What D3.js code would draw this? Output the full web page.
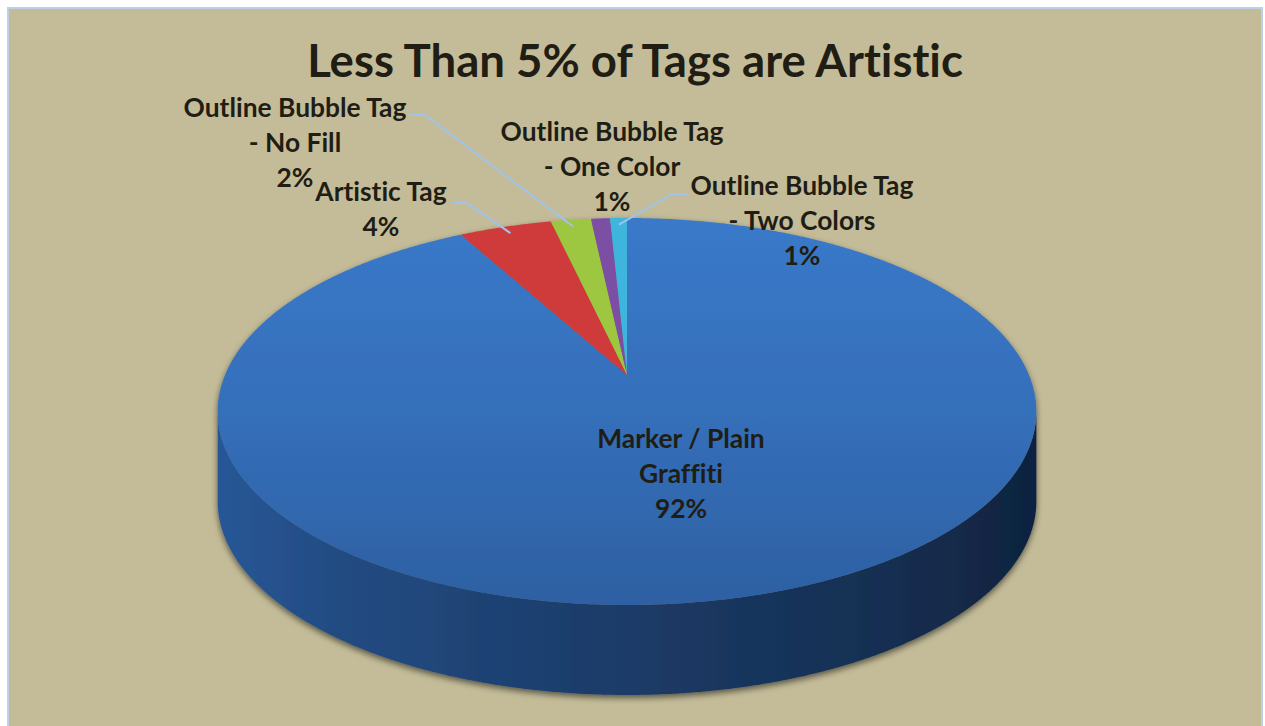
<!DOCTYPE html>
<html>
<head>
<meta charset="utf-8">
<script src="https://cdn.jsdelivr.net/npm/d3@7"></script>
<style>
html, body { margin: 0; padding: 0; background: #fff; }
svg { display: block; }
text { font-variant-ligatures: none; }
</style>
</head>
<body>
<svg id="chart" width="1265" height="726"></svg>
<script>
// data
const title = 'Less Than 5% of Tags are Artistic'
const categories = [
    'Marker / Plain Graffiti',
    'Artistic Tag',
    'Outline Bubble Tag - No Fill',
    'Outline Bubble Tag - One Color',
    'Outline Bubble Tag - Two Colors'
]
const values = [92.0, 4.4, 1.9, 0.9, 0.8]
const labelLines = [
    ['Marker / Plain', 'Graffiti'],
    ['Artistic Tag'],
    ['Outline Bubble Tag', '- No Fill'],
    ['Outline Bubble Tag', '- One Color'],
    ['Outline Bubble Tag', '- Two Colors']
]

// layout
const colors = ['#3775c4', '#cf3a3a', '#9dc73f', '#7b4fa4', '#3cb5dc']
const labelPos = [[681, 448], [381, 201], [295, 117], [612, 141], [802, 195]]
const leaders = [
    { i: 2, from: [410, 115], knee: [425, 115] },
    { i: 1, from: [452, 203], knee: [467, 203] },
    { i: 4, from: [687, 194], knee: [672, 194] }
]
const lineStep = 35
const cx = 627, cy = 375
const A = 402, B = 186.6, K = 0.1886, depth = 90

const svg = d3.select('#chart')
const defs = svg.append('defs')

// 透视投影：theta 从12点钟顺时针
function project (theta, r, dy = 0) {
    const u = r * Math.sin(theta), v = r * Math.cos(theta)
    const w = 1 + K * v
    return [cx + A * u / w, cy - B * v / w + dy]
}

function arcPoints (a0, a1, dy = 0) {
    const n = Math.max(2, Math.ceil((a1 - a0) / 0.005))
    return d3.range(n + 1).map(k => project(a0 + (a1 - a0) * k / n, 1, dy))
}

// background
svg.append('rect')
    .attr('x', 8).attr('y', 8)
    .attr('width', 1254).attr('height', 730)
    .attr('fill', '#c4bc98')
    .attr('stroke', '#bcd0e6')
    .attr('stroke-width', 2)

// gradients
const sideGrad = defs.append('linearGradient')
    .attr('id', 'sideGrad')
    .attr('gradientUnits', 'userSpaceOnUse')
    .attr('x1', 218).attr('x2', 1037).attr('y1', 0).attr('y2', 0)
sideGrad.selectAll('stop')
    .data([[0, '#285796'], [0.15, '#224b82'], [0.5, '#1c3b67'], [0.8, '#152f52'], [1, '#10233f']])
    .enter().append('stop')
    .attr('offset', d => d[0])
    .attr('stop-color', d => d[1])

const topGrad = defs.append('linearGradient')
    .attr('id', 'topGrad')
    .attr('gradientUnits', 'userSpaceOnUse')
    .attr('x1', 0).attr('x2', 0).attr('y1', 218).attr('y2', 605)
topGrad.selectAll('stop')
    .data([[0, '#3a79c9'], [0.5, '#356fba'], [1, '#2d60a2']])
    .enter().append('stop')
    .attr('offset', d => d[0])
    .attr('stop-color', d => d[1])

const shadow = defs.append('filter')
    .attr('id', 'shadow')
    .attr('x', '-10%').attr('y', '-10%')
    .attr('width', '120%').attr('height', '130%')
shadow.append('feDropShadow')
    .attr('dx', 0).attr('dy', 3)
    .attr('stdDeviation', 3)
    .attr('flood-color', '#000')
    .attr('flood-opacity', 0.55)

// pie
const pie = d3.pie().sort(null).value(d => d)
const arcs = pie(values)
const total = d3.sum(values)
const pct = d3.format('.0%')

const pieGroup = svg.append('g').attr('filter', 'url(#shadow)')
const line = d3.line()

// side wall (front half only)
const thetaR = Math.PI / 2 + Math.asin(K)
const thetaL = 3 * Math.PI / 2 - Math.asin(K)
pieGroup.selectAll('path.side')
    .data(arcs.filter(a => Math.min(a.endAngle, thetaL) > Math.max(a.startAngle, thetaR)))
    .enter().append('path')
    .attr('class', 'side')
    .attr('d', a => {
        const a0 = Math.max(a.startAngle, thetaR), a1 = Math.min(a.endAngle, thetaL)
        const pts = arcPoints(a0, a1).concat(arcPoints(a0, a1, depth).reverse())
        return line(pts) + 'Z'
    })
    .attr('fill', a => a.index === 0 ? 'url(#sideGrad)' : d3.color(colors[a.index]).darker(1.2))

// top face
pieGroup.selectAll('path.top')
    .data(arcs)
    .enter().append('path')
    .attr('class', 'top')
    .attr('d', a => line([[cx, cy]].concat(arcPoints(a.startAngle, a.endAngle))) + 'Z')
    .attr('fill', a => a.index === 0 ? 'url(#topGrad)' : colors[a.index])

// leader lines
svg.selectAll('path.leader')
    .data(leaders)
    .enter().append('path')
    .attr('class', 'leader')
    .attr('d', d => {
        const a = arcs[d.i]
        const end = project((a.startAngle + a.endAngle) / 2, 0.95)
        return line([d.from, d.knee, end])
    })
    .attr('fill', 'none')
    .attr('stroke', '#9fc3ea')
    .attr('stroke-width', 2)

// title
const titleText = svg.append('text')
    .attr('x', 635).attr('y', 77)
    .attr('text-anchor', 'middle')
    .attr('font-family', 'Lato, "Open Sans", sans-serif')
    .attr('font-weight', 700)
    .attr('font-size', 40)
    .attr('fill', '#1f1d14')
    .text(title)
const tw = titleText.node().getComputedTextLength()
titleText.attr('font-size', 40 * 656 / tw)

// labels
const probe = svg.append('text')
    .attr('font-family', 'Lato, "Open Sans", sans-serif')
    .attr('font-weight', 700)
    .attr('font-size', 24)
    .text('Outline Bubble Tag')
const labelSize = 24 * 223 / probe.node().getComputedTextLength()
probe.remove()

const labels = svg.selectAll('text.label')
    .data(arcs)
    .enter().append('text')
    .attr('class', 'label')
    .attr('text-anchor', 'middle')
    .attr('font-family', 'Lato, "Open Sans", sans-serif')
    .attr('font-weight', 700)
    .attr('font-size', labelSize)
    .attr('fill', '#1f1d14')
    .attr('x', a => labelPos[a.index][0])
    .attr('y', a => labelPos[a.index][1])

labels.selectAll('tspan')
    .data(a => labelLines[a.index].concat([pct(a.value / total)]).map((t, k) => ({ t, k, a })))
    .enter().append('tspan')
    .attr('x', d => labelPos[d.a.index][0])
    .attr('y', d => labelPos[d.a.index][1] + d.k * lineStep)
    .text(d => d.t)
</script>
</body>
</html>
